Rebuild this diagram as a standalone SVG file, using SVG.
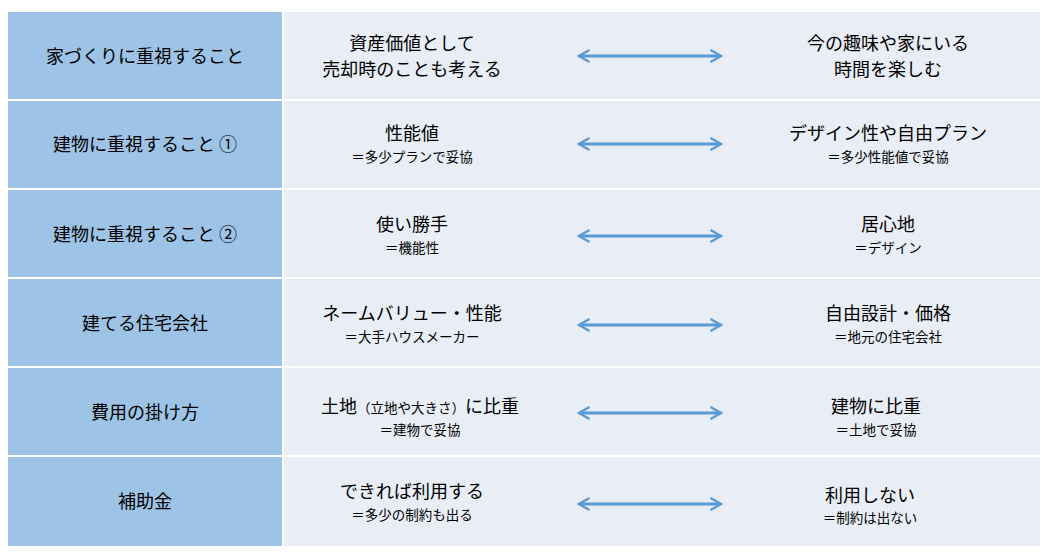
<svg xmlns="http://www.w3.org/2000/svg" width="1048" height="554" viewBox="0 0 1048 554">
<defs>
<style>
text{font-family:"Noto Sans CJK JP","Noto Sans CJK SC",sans-serif;fill:#000;text-anchor:middle}
.h{font-size:18px}
.m{font-size:18px}
.s{font-size:13.5px}
.lc{fill:#9DC3E6}
.rc{fill:#E9EDF5}
.sep{stroke:#fff;stroke-width:2}
.ar{stroke:#5B9BD5;stroke-width:3;fill:none}
</style>
<marker id="a" viewBox="0 0 10 10" refX="8" refY="5" markerWidth="5" markerHeight="5" orient="auto-start-reverse" markerUnits="strokeWidth"><path d="M1,1 L8,5 L1,9" fill="none" stroke="#5B9BD5" stroke-width="1.6"/></marker>
</defs>
<rect width="1048" height="554" fill="#fff"/>
<rect class="lc" x="8" y="12" width="275" height="534"/>
<rect class="rc" x="283" y="12" width="757" height="534"/>
<g id="seps">
<line class="sep" x1="8" y1="100" x2="1040" y2="100"/>
<line class="sep" x1="8" y1="189" x2="1040" y2="189"/>
<line class="sep" x1="8" y1="278" x2="1040" y2="278"/>
<line class="sep" x1="8" y1="367" x2="1040" y2="367"/>
<line class="sep" x1="8" y1="456" x2="1040" y2="456"/>
<line class="sep" x1="283" y1="12" x2="283" y2="546"/>
</g>
<g id="connectors">
<line class="ar" x1="579" y1="56" x2="721" y2="56" marker-start="url(#a)" marker-end="url(#a)"/>
<line class="ar" x1="579" y1="144" x2="721" y2="144" marker-start="url(#a)" marker-end="url(#a)"/>
<line class="ar" x1="579" y1="236" x2="721" y2="236" marker-start="url(#a)" marker-end="url(#a)"/>
<line class="ar" x1="579" y1="325" x2="721" y2="325" marker-start="url(#a)" marker-end="url(#a)"/>
<line class="ar" x1="579" y1="413" x2="721" y2="413" marker-start="url(#a)" marker-end="url(#a)"/>
<line class="ar" x1="579" y1="504" x2="721" y2="504" marker-start="url(#a)" marker-end="url(#a)"/>
</g>
<g id="row1">
<text class="h" x="145" y="63">家づくりに重視すること</text>
<text class="m" x="412" y="50">資産価値として</text>
<text class="m" x="412" y="76">売却時のことも考える</text>
<text class="m" x="888" y="50">今の趣味や家にいる</text>
<text class="m" x="888" y="76">時間を楽しむ</text>
</g>
<g id="row2">
<text class="h" x="145" y="151">建物に重視すること ①</text>
<text class="m" x="412" y="140">性能値</text>
<text class="s" x="412" y="162">＝多少プランで妥協</text>
<text class="m" x="888" y="140">デザイン性や自由プラン</text>
<text class="s" x="888" y="162">＝多少性能値で妥協</text>
</g>
<g id="row3">
<text class="h" x="145" y="241">建物に重視すること ②</text>
<text class="m" x="412" y="231">使い勝手</text>
<text class="s" x="412" y="253">＝機能性</text>
<text class="m" x="888" y="231">居心地</text>
<text class="s" x="888" y="253">＝デザイン</text>
</g>
<g id="row4">
<text class="h" x="145" y="330">建てる住宅会社</text>
<text class="m" x="412" y="320">ネームバリュー・性能</text>
<text class="s" x="412" y="342">＝大手ハウスメーカー</text>
<text class="m" x="888" y="320">自由設計・価格</text>
<text class="s" x="888" y="342">＝地元の住宅会社</text>
</g>
<g id="row5">
<text class="h" x="145" y="419">費用の掛け方</text>
<text class="m" x="420" y="413">土地<tspan font-size="13.5px">（立地や大きさ）</tspan>に比重</text>
<text class="s" x="420" y="435">＝建物で妥協</text>
<text class="m" x="876" y="413">建物に比重</text>
<text class="s" x="876" y="435">＝土地で妥協</text>
</g>
<g id="row6">
<text class="h" x="145" y="508">補助金</text>
<text class="m" x="412" y="498">できれば利用する</text>
<text class="s" x="412" y="520">＝多少の制約も出る</text>
<text class="m" x="870" y="502">利用しない</text>
<text class="s" x="870" y="523">＝制約は出ない</text>
</g>
</svg>
